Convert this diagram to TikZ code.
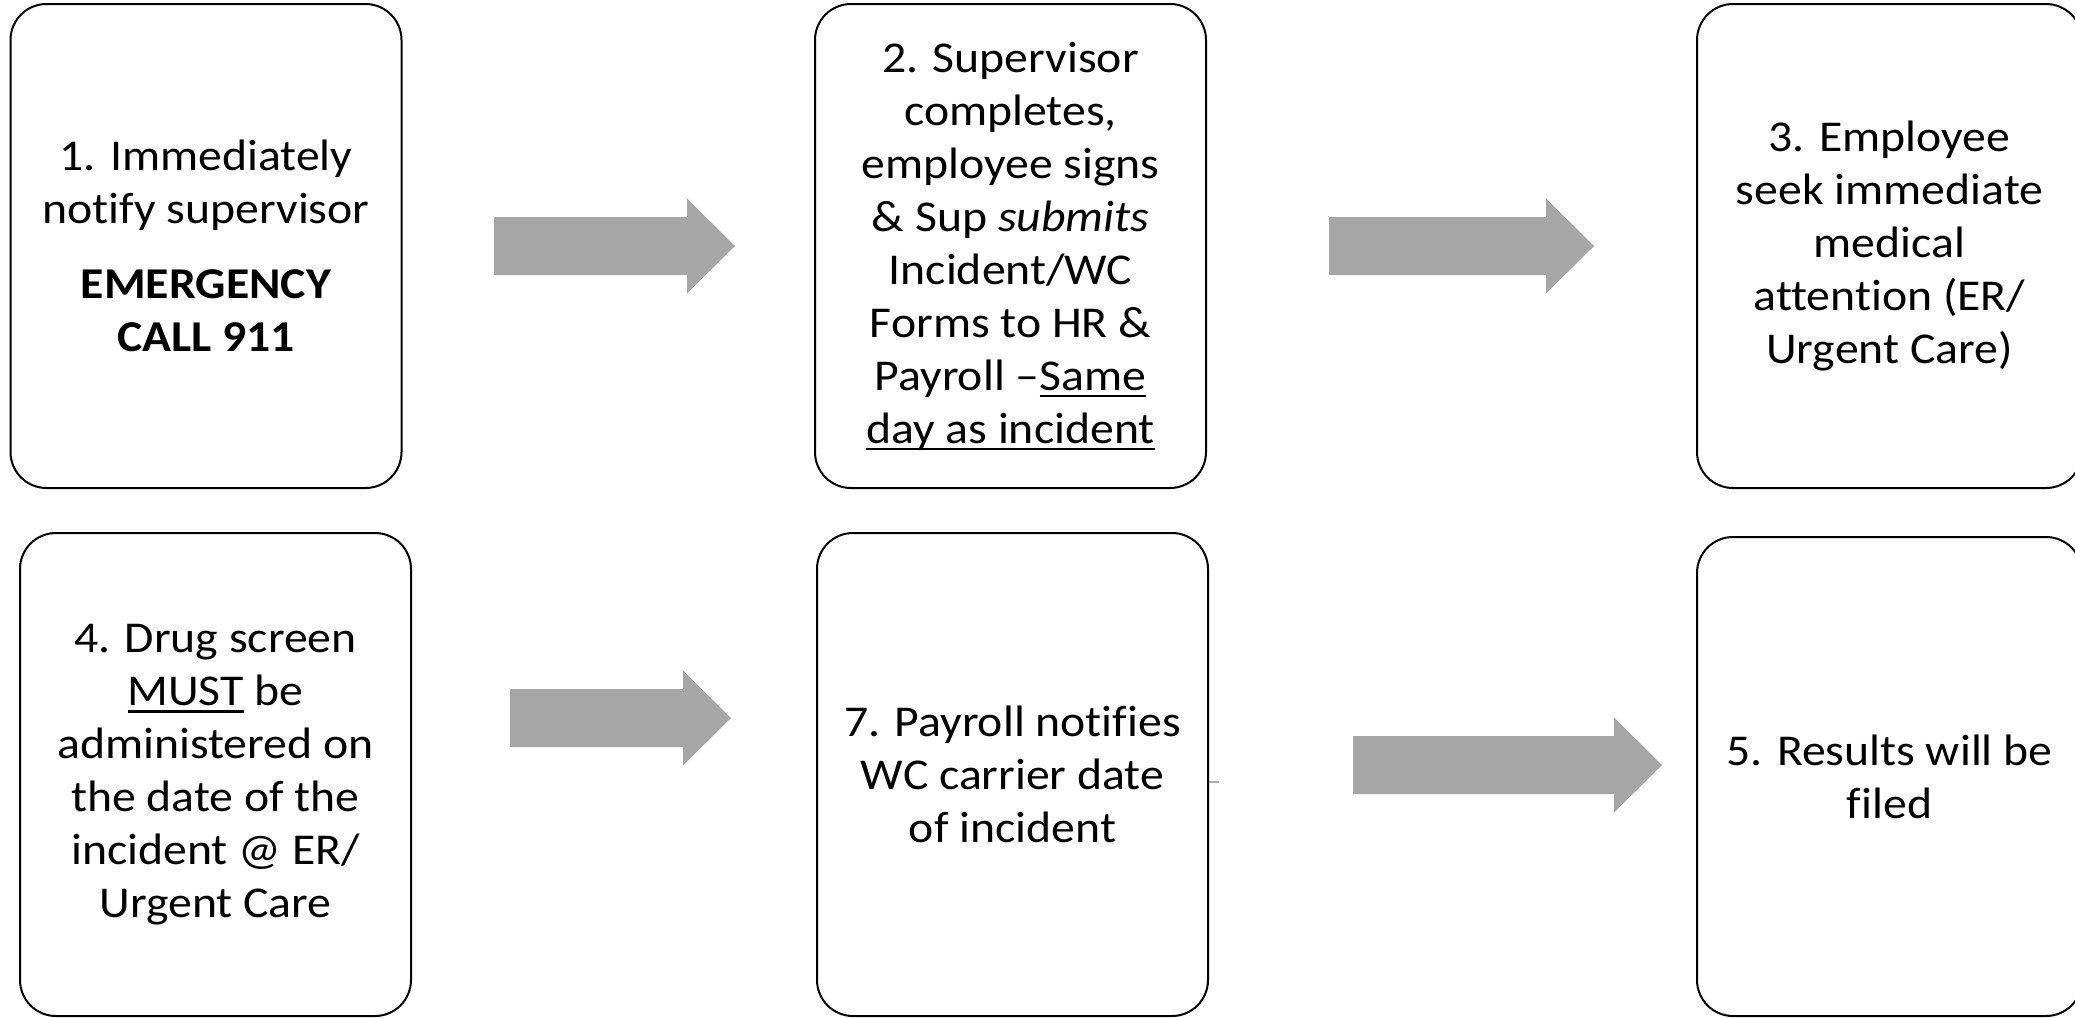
\documentclass[tikz,border=0pt]{standalone}
\usepackage{fontspec}
\setmainfont{Carlito}[FakeStretch=1.085, Ligatures={NoCommon}]
\definecolor{arrowgrey}{RGB}{166,166,166}
\definecolor{stubgrey}{RGB}{170,170,170}
\newcommand\blockarrow[3]{%
  \fill[arrowgrey] (#1,#3-29) -- (#2-48,#3-29) -- (#2-48,#3-47.5) -- (#2,#3)
    -- (#2-48,#3+47.5) -- (#2-48,#3+29) -- (#1,#3+29) -- cycle;}
\newcommand\myul[1]{\setbox0=\hbox{#1}\rlap{\rule[-3.6pt]{\wd0}{1.1pt}}\box0\relax}
\begin{document}
\begin{tikzpicture}[x=0.5pt,y=-0.5pt,
  box/.style={draw=black, line width=1pt, rounded corners=18pt, fill=white,
    align=center, inner sep=0pt, minimum width=195.5pt,
    font=\fontsize{22pt}{26.5pt}\selectfont}]
\useasboundingbox (0,0) rectangle (2075,1017);
\clip (0,0) rectangle (2075,1017);

\node[box, minimum height=242pt] (b1) at (206,246)
  {1. Immediately\\notify supervisor\\[11pt]\textbf{EMERGENCY}\\\textbf{CALL 911}};
\node[box, minimum height=242pt] (b2) at (1010.5,246)
  {2. Supervisor\\completes,\\employee signs\\\& Sup \textit{submits}\\Incident/WC\\Forms to HR \&\\Payroll –\myul{Same}\\\myul{day as incident}};
\node[box, minimum height=242pt, minimum width=192.5pt] (b3) at (1889.5,246)
  {3. Employee\\seek immediate\\medical\\attention (ER/\\Urgent Care)};
\node[box, minimum height=241.5pt] (b4) at (215.5,774.5)
  {4. Drug screen\\\myul{MUST} be\\administered on\\the date of the\\incident @ ER/\\Urgent Care};
\node[box, minimum height=241.5pt] (b7) at (1012.5,774.5)
  {7. Payroll notifies\\WC carrier date\\of incident};
\node[box, minimum height=239.5pt, minimum width=192.5pt] (b5) at (1889.5,776.5)
  {5. Results will be\\filed};

\blockarrow{494}{735}{246}
\blockarrow{1329}{1594}{246}
\blockarrow{510}{731}{718}
\blockarrow{1353}{1662}{765}

\coordinate (stubend) at (1219,782);
\draw[stubgrey, line width=1pt] (b7.east |- stubend) -- (stubend);
\end{tikzpicture}
\end{document}
